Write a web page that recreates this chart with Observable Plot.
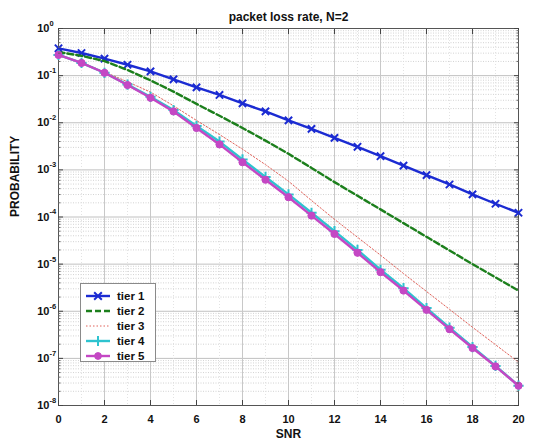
<!DOCTYPE html>
<html>
<head>
<meta charset="utf-8">
<script src="https://cdn.jsdelivr.net/npm/d3@7"></script>
<script src="https://cdn.jsdelivr.net/npm/@observablehq/plot@0.6"></script>
<style>
  html, body { margin: 0; padding: 0; background: #fff; }
  #wrap { position: relative; width: 546px; height: 446px; font-family: "Liberation Sans", Arial, sans-serif; }
  #legend { position: absolute; left: 80px; top: 283px; width: 76px; height: 79px; box-sizing: border-box;
            border: 1px solid #8a8a8a; background: #fff; padding: 4px 0 0 4px; }
  #legend .row { height: 15px; display: flex; align-items: center; font-weight: bold; font-size: 11.5px; color: #111; }
  #legend svg { margin-right: 6px; }
</style>
</head>
<body>
<div id="wrap"></div>
<script>
// ---- data ----
const snr = [0,1,2,3,4,5,6,7,8,9,10,11,12,13,14,15,16,17,18,19,20];
const tier1 = [0.380,0.302,0.229,0.170,0.123,0.0832,0.0562,0.0389,0.0257,0.0174,0.0112,7.41e-3,4.79e-3,3.09e-3,1.95e-3,1.23e-3,7.76e-4,4.90e-4,3.02e-4,1.91e-4,1.23e-4];
const tier2 = [0.316,0.263,0.204,0.132,0.0794,0.0457,0.0251,0.0141,7.76e-3,4.17e-3,2.19e-3,1.10e-3,5.50e-4,2.82e-4,1.45e-4,7.41e-5,3.80e-5,1.95e-5,1.00e-5,5.25e-6,2.75e-6];
const tier3 = [0.263,0.191,0.120,0.0741,0.0447,0.0229,0.0112,5.62e-3,2.75e-3,1.29e-3,5.75e-4,2.24e-4,8.91e-5,3.72e-5,1.55e-5,6.31e-6,2.63e-6,1.10e-6,4.57e-7,1.95e-7,8.32e-8];
const tier4 = [0.275,0.186,0.115,0.0646,0.0355,0.0186,8.51e-3,3.98e-3,1.66e-3,7.08e-4,3.02e-4,1.23e-4,5.01e-5,2.00e-5,7.59e-6,3.09e-6,1.17e-6,4.47e-7,1.74e-7,6.92e-8,2.63e-8];
const tier5 = [0.275,0.186,0.115,0.0631,0.0339,0.0174,7.76e-3,3.47e-3,1.45e-3,6.17e-4,2.63e-4,1.07e-4,4.37e-5,1.74e-5,6.76e-6,2.75e-6,1.07e-6,4.17e-7,1.66e-7,6.76e-8,2.63e-8];
const seriesNames = ["tier 1","tier 2","tier 3","tier 4","tier 5"];
const xTicks = [0,2,4,6,8,10,12,14,16,18,20];
const yExponents = [0,-1,-2,-3,-4,-5,-6,-7,-8];
const title = "packet loss rate, N=2";
const xLabel = "SNR";
const yLabel = "PROBABILITY";

// ---- styles ----
const styles = {
  "tier 1": {stroke: "#1b2bd2", width: 2.4, dash: null, symbol: "times", r: 3.4},
  "tier 2": {stroke: "#1c7f1c", width: 2.4, dash: "6,3", symbol: null},
  "tier 3": {stroke: "#e0625a", width: 1, dash: "1.5,2", symbol: null},
  "tier 4": {stroke: "#2ec3cf", width: 2.4, dash: null, symbol: "plus", r: 3.4},
  "tier 5": {stroke: "#c447c4", width: 2.4, dash: null, symbol: "circle", r: 3.6}
};

const allSeries = [tier1, tier2, tier3, tier4, tier5];
const rows = [];
allSeries.forEach((vals, i) => vals.forEach((v, j) => rows.push({tier: seriesNames[i], snr: snr[j], p: v})));

const yMajor = yExponents.map(e => Math.pow(10, e));
const yMinor = [];
yExponents.slice(1).forEach(e => { for (let k = 2; k <= 9; k++) yMinor.push(k * Math.pow(10, e)); });
const xMinor = [];
for (let i = 0; i < 20; i++) if (i % 2 === 1) xMinor.push(i);

const font = "'Liberation Sans', Arial, sans-serif";
const marks = [
  Plot.ruleY(yMinor, {stroke: "#c8c8c8", strokeWidth: 0.8, strokeDasharray: "1,1.5"}),
  Plot.ruleY(yMajor, {stroke: "#c0c0c0", strokeWidth: 1}),
  Plot.ruleX(xMinor, {stroke: "#dcdcdc", strokeWidth: 0.8, strokeDasharray: "1,2"}),
  Plot.ruleX(xTicks, {stroke: "#c8c8c8", strokeWidth: 1}),
  Plot.frame({stroke: "#555", strokeWidth: 1})
];
for (const name of seriesNames) {
  const s = styles[name];
  const data = rows.filter(d => d.tier === name);
  marks.push(Plot.line(data, {x: "snr", y: "p", stroke: s.stroke, strokeWidth: s.width, strokeDasharray: s.dash}));
  if (s.symbol === "circle") {
    marks.push(Plot.dot(data, {x: "snr", y: "p", r: s.r, fill: s.stroke, stroke: s.stroke, strokeWidth: 1}));
  } else if (s.symbol) {
    marks.push(Plot.dot(data, {x: "snr", y: "p", r: s.r, symbol: s.symbol, stroke: s.stroke, strokeWidth: 2}));
  }
}
marks.push(
  Plot.axisX({anchor: "bottom", ticks: xTicks, tickSize: -5, tickPadding: 15, tickFormat: d => String(d),
              fontSize: 11, fontWeight: "bold", fill: "#111", stroke: "#444", label: null}),
  Plot.axisX({anchor: "top", ticks: xTicks, tickSize: -5, tickFormat: () => "", stroke: "#444", label: null}),
  Plot.axisY({anchor: "left", ticks: yMajor, tickSize: -5, tickFormat: () => "", stroke: "#444", label: null}),
  Plot.axisY({anchor: "right", ticks: yMajor, tickSize: -5, tickFormat: () => "", stroke: "#444", label: null}),
  Plot.axisY({anchor: "left", ticks: yMinor, tickSize: -2.5, tickFormat: () => "", stroke: "#666", label: null}),
  Plot.axisY({anchor: "right", ticks: yMinor, tickSize: -2.5, tickFormat: () => "", stroke: "#666", label: null}),
  Plot.text(yExponents, {y: e => Math.pow(10, e), frameAnchor: "left", dx: -9, text: () => "10", textAnchor: "end",
                         fontSize: 11, fontWeight: "bold", fill: "#111"}),
  Plot.text(yExponents, {y: e => Math.pow(10, e), frameAnchor: "left", dx: -9, dy: -5, textAnchor: "start",
                         text: e => String(e), fontSize: 7.5, fontWeight: "bold", fill: "#111"}),
  Plot.text([title], {frameAnchor: "top", dy: -16, text: d => d, fontSize: 12, fontWeight: "bold", fill: "#111"}),
  Plot.text([xLabel], {frameAnchor: "bottom", dy: 32, text: d => d, fontSize: 12, fontWeight: "bold", fill: "#111"}),
  Plot.text([yLabel], {frameAnchor: "left", dx: -43, rotate: -90, text: d => d, fontSize: 12, fontWeight: "bold", fill: "#111"})
);

const chart = Plot.plot({
  width: 546, height: 446,
  marginTop: 28, marginRight: 28, marginBottom: 41, marginLeft: 58,
  style: {fontFamily: font, background: "#fff", overflow: "visible"},
  x: {domain: [0, 20], axis: null},
  y: {type: "log", domain: [1e-8, 1], axis: null},
  marks
});
const wrap = document.getElementById("wrap");
wrap.appendChild(chart);

// ---- legend ----
const legend = document.createElement("div");
legend.id = "legend";
for (const name of seriesNames) {
  const s = styles[name];
  const row = document.createElement("div");
  row.className = "row";
  const ns = "http://www.w3.org/2000/svg";
  const sv = document.createElementNS(ns, "svg");
  sv.setAttribute("width", 26); sv.setAttribute("height", 10);
  const ln = document.createElementNS(ns, "line");
  ln.setAttribute("x1", 1); ln.setAttribute("x2", 25); ln.setAttribute("y1", 5); ln.setAttribute("y2", 5);
  ln.setAttribute("stroke", s.stroke); ln.setAttribute("stroke-width", s.width);
  if (s.dash) ln.setAttribute("stroke-dasharray", s.dash);
  sv.appendChild(ln);
  if (s.symbol) {
    const sym = document.createElementNS(ns, "path");
    const sz = s.symbol === "circle" ? d3.symbolCircle : s.symbol === "plus" ? d3.symbolPlus : d3.symbolTimes;
    sym.setAttribute("d", d3.symbol(sz, s.symbol === "circle" ? 36 : 40)());
    sym.setAttribute("transform", "translate(13,5)");
    sym.setAttribute("stroke", s.stroke); sym.setAttribute("stroke-width", s.symbol === "circle" ? 1 : 2);
    sym.setAttribute("fill", s.symbol === "circle" ? s.stroke : "none");
    sv.appendChild(sym);
  }
  row.appendChild(sv);
  const t = document.createElement("span");
  t.textContent = name;
  row.appendChild(t);
  legend.appendChild(row);
}
wrap.appendChild(legend);
</script>
</body>
</html>
